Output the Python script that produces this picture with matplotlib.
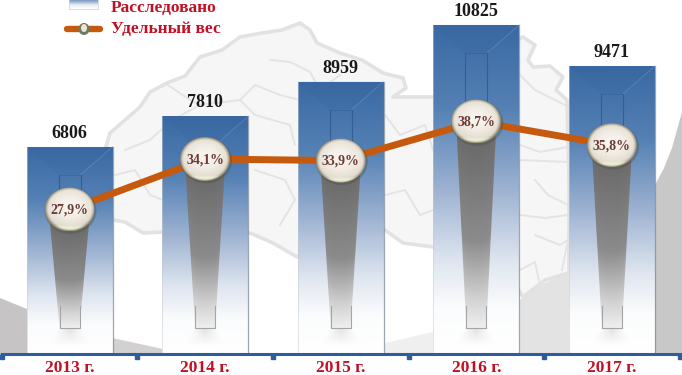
import numpy as np
import matplotlib
matplotlib.use('Agg')
import matplotlib.pyplot as plt
from matplotlib.colors import LinearSegmentedColormap, to_rgb
from matplotlib.patches import Ellipse, Polygon, Rectangle

years = ['2013 г.', '2014 г.', '2015 г.', '2016 г.', '2017 г.']
investigated = [6806, 7810, 8959, 10825, 9471]
share = [27.9, 34.1, 33.9, 38.7, 35.8]
share_labels = ['27,9%', '34,1%', '33,9%', '38,7%', '35,8%']

# decoration outlines, in picture pixels
map_outline = [(105, 150), (110, 133), (125, 120), (140, 107), (150, 92), (167, 83), (185, 76), (200, 57),
               (222, 50), (240, 37), (262, 33), (282, 30), (300, 23), (310, 30), (317, 43), (340, 53),
               (362, 60), (383, 73), (403, 78), (406, 88), (393, 97), (433, 97), (480, 60), (523, 37),
               (535, 45), (528, 60), (533, 67), (550, 66), (563, 77), (556, 90), (567, 100), (569, 180),
               (569, 273), (545, 280), (523, 297), (500, 260), (433, 247), (403, 243), (385, 230), (340, 240),
               (297, 257), (273, 243), (250, 233), (200, 230), (163, 232), (143, 233), (125, 222), (113, 220), (100, 200)]
map_borders = [[(125, 150), (150, 140), (172, 120), (200, 105), (240, 100), (255, 115), (290, 125), (295, 145)],
               [(168, 85), (190, 100), (200, 105)],
               [(270, 60), (290, 62), (310, 72), (320, 90), (340, 75)],
               [(240, 100), (255, 85), (280, 95), (300, 100), (330, 115)],
               [(255, 170), (285, 180), (295, 200), (280, 225)],
               [(385, 115), (400, 135), (425, 125), (433, 150)],
               [(385, 195), (405, 190), (420, 215), (433, 210)],
               [(115, 175), (135, 170), (150, 195), (163, 200)],
               [(520, 75), (535, 90), (565, 105)],
               [(520, 145), (540, 152), (568, 147)],
               [(520, 160), (568, 162)],
               [(535, 180), (548, 195), (568, 205)],
               [(520, 215), (545, 218), (568, 215)],
               [(535, 235), (560, 245), (568, 240), (562, 270)],
               [(520, 270), (535, 262), (540, 285)]]
gray_wedges = [([(0, 298), (27, 309), (27, 353), (0, 353)], '#c6c4c4'),
               ([(112, 338), (163, 349), (163, 353), (112, 353)], '#d2d0d0'),
               ([(385, 343), (433, 332), (433, 353), (385, 353)], '#efefef'),
               ([(520, 300), (540, 285), (569, 272), (569, 353), (520, 353)], '#e3e3e3'),
               ([(655, 185), (664, 168), (672, 148), (682, 112), (682, 353), (655, 353)], '#c9c8c8')]

PX_W, PX_H = 682, 375
UNIT_PX = 0.03036      # pixels per investigated case
PCT_PX = 8.15          # pixels per percent
BASE_PX = 353.5
STEP = 135.6
FIRST_X = 69.5


def ramp(colors):
    return LinearSegmentedColormap.from_list('r', colors)


fig = plt.figure(figsize=(PX_W / 100, PX_H / 100), dpi=100, facecolor='white')

bg = fig.add_axes([0, 0, 1, 1], zorder=0)
bg.set_xlim(0, PX_W)
bg.set_ylim(PX_H, 0)
bg.axis('off')
bg.add_patch(Polygon(map_outline, closed=True, facecolor='#f6f6f6', edgecolor='#e2e2e2', lw=2.6, joinstyle='round'))
for line in map_borders:
    bg.plot(*zip(*line), color='#e4e4e4', lw=1.4, solid_joinstyle='round')
for pts, col in gray_wedges:
    bg.add_patch(Polygon(pts, closed=True, facecolor=col, edgecolor='none'))

ax = fig.add_axes([0, 0, 1, 1], zorder=1)
ax.patch.set_alpha(0)
xlim = (-FIRST_X / STEP, (PX_W - FIRST_X) / STEP)
ylim = ((BASE_PX - PX_H) / UNIT_PX, BASE_PX / UNIT_PX)
ax2 = ax.twinx()
ax2.set_zorder(2)
ax2.patch.set_alpha(0)
ylim2 = (27.9 - (PX_H - 209.5) / PCT_PX, 27.9 + 209.5 / PCT_PX)

x = np.arange(len(years))
bar_w = 86 / STEP
bars = ax.bar(x, investigated, width=bar_w, color='none', edgecolor='none')

bar_cmap = ramp([(0, '#3a69a3'), (0.25, '#5480b4'), (0.5, '#9db2d1'), (0.72, '#dfe6f0'), (0.86, '#fbfcfd'), (1, '#ffffff')])
shaft_cmap = ramp([(0, '#686868'), (0.55, '#8c8c8c'), (0.85, '#d2d2d2'), (1, '#eeeeee')])
grad = np.linspace(0, 1, 256).reshape(-1, 1)

for i, (b, v) in enumerate(zip(bars, investigated)):
    cx = x[i]
    half = bar_w / 2
    im = ax.imshow(grad, cmap=bar_cmap, extent=(cx - half, cx + half, 0, v), aspect='auto', zorder=1, vmin=0, vmax=1)
    im.set_clip_path(b)

    well_top = v - 28 / UNIT_PX
    well_bot = (BASE_PX - 328) / UNIT_PX
    wh = 11 / STEP

    # bevel of the frame around the well
    ax.add_patch(Polygon([(cx - half, v), (cx + half, v), (cx + wh, well_top), (cx - wh, well_top)],
                         facecolor='#2f5f98', alpha=0.12, edgecolor='none', zorder=2))
    ax.plot([cx + wh, cx + half], [well_top, v], color='#7f9fc6', lw=0.5, alpha=0.55, zorder=2)
    ax.plot([cx - wh, cx + wh], [well_top, well_top], color='#2c5a90', lw=0.5, alpha=0.6, zorder=2)
    ball_bot = (BASE_PX - (209.5 - (share[i] - 27.9) * PCT_PX) - 14) / UNIT_PX
    ax.plot([cx - wh, cx - wh], [ball_bot, well_top], color='#2c5a90', lw=0.8, alpha=0.8, zorder=2)
    ax.plot([cx + wh, cx + wh], [ball_bot, well_top], color='#2c5a90', lw=0.8, alpha=0.8, zorder=2)

    # gray shaft below the ball
    tw, bw = 19.5 / STEP, 10 / STEP
    poly = Polygon([(cx - tw, ball_bot), (cx + tw, ball_bot), (cx + bw, well_bot), (cx - bw, well_bot)],
                   facecolor='none', edgecolor='none', zorder=3)
    ax.add_patch(poly)
    u = np.abs(np.linspace(-1, 1, 64)).reshape(1, -1)
    t = np.linspace(0, 1, 256).reshape(-1, 1)
    rgb = shaft_cmap(np.clip(t + 0.08 * u ** 3, 0, 1))
    im = ax.imshow(rgb, extent=(cx - tw, cx + tw, well_bot, ball_bot), aspect='auto', zorder=3)
    im.set_clip_path(poly)
    ax.plot([cx - bw, cx - bw, cx + bw, cx + bw], [well_bot + 22 / UNIT_PX, well_bot, well_bot, well_bot + 22 / UNIT_PX],
            color='#a5a5a5', lw=0.8, zorder=4)

    # soft floor shadow under the well
    sw = 24 / STEP
    shade = np.zeros((64, 64, 4))
    shade[..., :3] = 0.72
    yy, xx = np.mgrid[0:1:64j, -1:1:64j]
    shade[..., 3] = 0.4 * (1 - yy) * np.clip(1 - np.abs(xx) / (0.45 + 0.55 * yy), 0, 1)
    ax.imshow(shade, extent=(cx - sw, cx + sw, well_bot - 18 / UNIT_PX, well_bot), aspect='auto', zorder=3)

    # gray side edges
    ax.plot([cx + half, cx + half], [0, v], color='#7f8a99', lw=0.9, alpha=0.75, zorder=5)
    ax.plot([cx - half, cx - half], [0, v], color='#c5cbd4', lw=0.6, alpha=0.6, zorder=5)

    ax.text(cx, v + 13.5 / UNIT_PX, str(v), ha='center', va='center', family='Liberation Serif',
            fontsize=13, fontweight='bold', color='#1a1a1a', zorder=6)
    ax.text(cx, -14.5 / UNIT_PX, years[i], ha='center', va='center', family='Liberation Serif',
            fontsize=12.5, fontweight='bold', color='#c40f22', zorder=6)

# baseline with tick squares
ax.plot([-FIRST_X / STEP, (PX_W - FIRST_X) / STEP], [0, 0], color='#2f5c9c', lw=2.2, zorder=6, solid_capstyle='butt')
edges = np.arange(len(years) + 1) - 0.5
ax.plot(edges, [-3 / UNIT_PX] * len(edges), ls='none', marker='s', ms=3, color='#2f5c9c', zorder=6, clip_on=False)

ax.set_xlim(xlim)
ax.set_ylim(ylim)
ax.axis('off')

# share line and balls
ax2.plot(x, share, color='#c55a0e', lw=5, zorder=2, solid_capstyle='butt')

ball_w, ball_h = 50 / STEP, 44 / PCT_PX
yy, xx = np.mgrid[-1:1:128j, -1:1:128j]
rr = np.sqrt(xx ** 2 + yy ** 2)
c_light = np.array(to_rgb('#f8f4ee'))
c_mid = np.array(to_rgb('#ddd6c8'))
c_rim = np.array(to_rgb('#8a8570'))
tone = np.clip(np.sqrt((xx * 0.9) ** 2 + (yy + 0.1) ** 2), 0, 1)
ball = c_light + (c_mid - c_light) * tone[..., None] ** 2
rim = np.clip((rr - 0.86) / 0.14, 0, 1)[..., None] ** 1.5
ball = ball + (c_rim - ball) * rim
# pale green crescent at the bottom (image rows run top to bottom)
cres = (np.clip((yy - 0.72) / 0.12, 0, 1) * np.clip((1 - rr) / 0.1, 0, 1))[..., None]
ball = ball + (np.array(to_rgb('#eef0d8')) - ball) * cres * 0.9
ball = np.clip(ball, 0, 1)

for i, s in enumerate(share):
    ax2.add_patch(Ellipse((x[i] + 1 / STEP, s - 1.5 / PCT_PX), ball_w * 1.04, ball_h * 1.04, facecolor='#4a4e3f',
                          alpha=0.35, edgecolor='none', zorder=3))
    clip = Ellipse((x[i], s), ball_w, ball_h, facecolor='none', edgecolor='none', zorder=4)
    ax2.add_patch(clip)
    im = ax2.imshow(ball, extent=(x[i] - ball_w / 2, x[i] + ball_w / 2, s - ball_h / 2, s + ball_h / 2), aspect='auto', zorder=4)
    im.set_clip_path(clip)
    ax2.text(x[i], s - 0.1, share_labels[i], ha='center', va='center', family='Liberation Serif', fontsize=10,
             fontweight='bold', color='#6b3a34', zorder=5)

ax2.set_xlim(xlim)
ax2.set_ylim(ylim2)
ax2.axis('off')

# legend, top left
leg = fig.add_axes([0, 0, 1, 1], zorder=3)
leg.set_xlim(0, PX_W)
leg.set_ylim(PX_H, 0)
leg.axis('off')
leg.patch.set_alpha(0)
swatch = ramp(['#4f78ad', '#8ea6c9', '#e8edf4', '#ffffff'])
leg.imshow(grad, cmap=swatch, extent=(69, 98, 9, -3), aspect='auto', zorder=1)
leg.add_patch(Rectangle((69, -3), 29, 12, facecolor='none', edgecolor='#c9d2df', lw=0.5, zorder=2))
leg.plot([67, 100], [29, 29], color='#c55a0e', lw=4.6, solid_capstyle='round', zorder=1)
leg.add_patch(Ellipse((84, 29), 11, 12, facecolor='#6f7a5e', edgecolor='none', zorder=2))
leg.add_patch(Ellipse((84, 28), 6, 8, facecolor='#e9e6da', edgecolor='none', zorder=3))
leg.text(111, 8, 'Расследовано', ha='left', va='center', family='Liberation Serif', fontsize=12.5, fontweight='bold', color='#c40f22')
leg.text(111, 29, 'Удельный вес', ha='left', va='center', family='Liberation Serif', fontsize=12.5, fontweight='bold', color='#c40f22')
leg.set_xlim(0, PX_W)
leg.set_ylim(PX_H, 0)

fig.savefig('out.png', dpi=100)
